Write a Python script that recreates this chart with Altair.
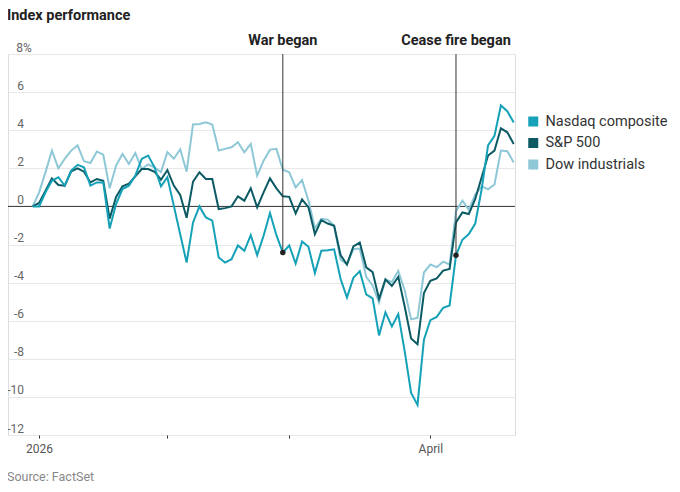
import altair as alt
import pandas as pd

# trading-day index (-1 = Dec 31 base, 0 = Jan 2, 20 = Feb 2, 39 = Mar 2, 61 = Apr 1)
idx = list(range(-1, 75))

nasdaq = [0, 0, 0.74, 1.35, 1.53, 1.09, 1.88, 2.18, 2.05, 1.09, 1.26, 1.26, -1.16, 0.12, 0.91, 1.09,
          1.61, 2.49, 2.67, 2.05, 1.05, 1.53, 0.04, -1.46, -2.95, -0.84, 0.0, -0.58, -0.75, -2.68,
          -2.95, -2.77, -2.05, -2.33, -1.51, -2.56, -1.54, -0.35, -1.51, -2.42, -2.05, -3.0, -1.84,
          -2.12, -3.5, -2.33, -2.3, -2.25, -3.8, -4.79, -3.75, -3.4, -4.62, -4.83, -6.77, -5.56,
          -6.3, -5.65, -7.6, -9.79, -10.42, -7.0, -5.97, -5.8, -5.32, -5.2, -2.57, -1.75, -1.45,
          -0.9, 0.9, 3.2, 3.7, 5.3, 5.0, 4.4]

sp500 = [0, 0.18, 0.82, 1.47, 1.12, 1.09, 1.84, 2.0, 1.82, 1.26, 1.44, 1.35, -0.64, 0.5, 1.05, 1.19,
         1.58, 1.96, 1.96, 1.82, 1.4, 1.91, 1.09, 0.6, -0.6, 1.3, 1.79, 1.44, 1.44, -0.14, -0.09,
         0.0, 0.53, 0.3, 0.95, -0.05, 0.74, 1.47, 0.95, 0.53, 0.5, -0.37, 0.37, -0.05, -1.46,
         -0.72, -0.9, -1.02, -2.55, -3.05, -2.1, -1.9, -3.2, -3.45, -4.85, -3.83, -4.18, -3.7,
         -5.25, -6.93, -7.23, -4.55, -3.91, -3.78, -3.37, -3.28, -0.84, -0.32, -0.4, 0.39, 1.53,
         2.67, 2.93, 4.1, 3.89, 3.28]

dow = [0, 0.74, 1.8, 2.93, 2.0, 2.5, 2.93, 3.2, 2.37, 2.28, 2.88, 2.72, 0.95, 2.14, 2.75, 2.23, 2.8,
       1.96, 2.2, 2.05, 1.8, 2.85, 2.5, 3.0, 1.82, 4.3, 4.33, 4.42, 4.3, 2.93, 3.02, 3.1, 3.37,
       2.84, 3.28, 1.61, 2.4, 2.98, 3.02, 1.93, 1.79, 1.0, 1.38, 0.3, -1.15, -0.65, -0.7, -1.0,
       -2.8, -3.04, -2.25, -2.21, -3.7, -4.15, -5.05, -3.85, -3.97, -3.39, -4.4, -5.93, -5.85,
       -3.47, -3.05, -3.19, -2.9, -3.05, -0.25, 0.3, -0.18, 0.62, 1.05, 0.9, 1.15, 2.93, 2.9, 2.3]

series_names = ["Nasdaq composite", "S&P 500", "Dow industrials"]
series_colors = ["#15a1b7", "#0c5b64", "#8ec8d7"]

event_labels = ["War began", "Cease fire began"]
event_idx = [38, 65]

x_tick_values = [0, 20, 39, 61]
y_tick_values = [-12, -10, -8, -6, -4, -2, 0, 2, 4, 6, 8]

FONT = "Roboto"

df = pd.DataFrame({
    "i": idx * 3,
    "v": nasdaq + sp500 + dow,
    "s": [series_names[0]] * len(idx) + [series_names[1]] * len(idx) + [series_names[2]] * len(idx),
})

events = pd.DataFrame({
    "label": event_labels,
    "i": event_idx,
    "val": [nasdaq[idx.index(e)] for e in event_idx],
    "top": [8, 8],
})

xscale = alt.Scale(domain=[-4.85, 74.2], nice=False, zero=False)
xaxis = alt.Axis(
    values=x_tick_values,
    labelExpr="datum.value == 0 ? '2026' : (datum.value == 61 ? 'April' : '')",
    grid=False, domain=False, ticks=True, tickSize=3, tickColor="#333",
    labelFontSize=12, labelColor="#555", labelPadding=5, title=None,
    labelFont=FONT, labelOverlap=False,
)
yscale = alt.Scale(domain=[-12, 8], nice=False, zero=False)
yaxis = alt.Axis(
    values=y_tick_values,
    labelExpr="datum.value == 8 ? '8%' : '' + datum.value",
    grid=True, gridColor="#e8e8e8", gridWidth=1, domain=False, ticks=False, tickSize=0,
    labelAlign={"condition": {"test": "datum.value == 8", "value": "center"}, "value": "right"},
    labelPadding=-15.5, labelBaseline="alphabetic", labelOffset=-3,
    labelFontSize=12, labelColor="#666", title=None, labelFont=FONT,
    labelOverlap=False,
)


def X(field):
    return alt.X(field, scale=xscale, axis=xaxis)


def Y(field):
    return alt.Y(field, scale=yscale, axis=yaxis)


color = alt.Color(
    "s:N",
    scale=alt.Scale(domain=series_names, range=series_colors),
    legend=alt.Legend(
        orient="none", legendX=518, legendY=60, title=None,
        symbolType="square", symbolSize=25, symbolStrokeWidth=5,
        labelFontSize=14.5, labelColor="#333", labelFont=FONT, rowPadding=5.5,
        clipHeight=15, labelOffset=5,
    ),
)

zero = alt.Chart(pd.DataFrame({"z": [0]})).mark_rule(color="#333", strokeWidth=1).encode(
    y=Y("z:Q")
)

base = alt.Chart(df).mark_line(strokeWidth=2).encode(x=X("i:Q"), y=Y("v:Q"), color=color)
lines = [base.transform_filter(alt.datum.s == n) for n in [series_names[2], series_names[1], series_names[0]]]

rules = alt.Chart(events).mark_rule(color="#333", strokeWidth=1).encode(
    x=X("i:Q"), y=Y("top:Q"), y2="val:Q"
)
dots = alt.Chart(events).mark_circle(color="#222", size=30, opacity=1).encode(
    x=X("i:Q"), y=Y("val:Q")
)
ev_text = alt.Chart(events).mark_text(
    font=FONT, fontSize=14.5, fontWeight="bold", color="#222", align="center", baseline="alphabetic"
).encode(x=X("i:Q"), y=alt.value(-9), text="label:N")

title = alt.Chart(pd.DataFrame({"t": ["Index performance"]})).mark_text(
    font=FONT, fontSize=14.5, fontWeight="bold", color="#222", align="left", baseline="alphabetic"
).encode(x=alt.value(-1), y=alt.value(-34), text="t:N")

source = alt.Chart(pd.DataFrame({"t": ["Source: FactSet"]})).mark_text(
    font=FONT, fontSize=12.5, color="#888", align="left", baseline="alphabetic"
).encode(x=alt.value(-1), y=alt.value(427), text="t:N")

chart = alt.layer(zero, *lines, rules, dots, ev_text, title, source).properties(
    width=507, height=381,
    padding={"left": 0, "top": 46, "right": 157, "bottom": 49},
    autosize="none",
).configure_view(stroke=None).configure(font=FONT)

chart.save("out.html", embed_options={"renderer": "svg", "actions": False})
